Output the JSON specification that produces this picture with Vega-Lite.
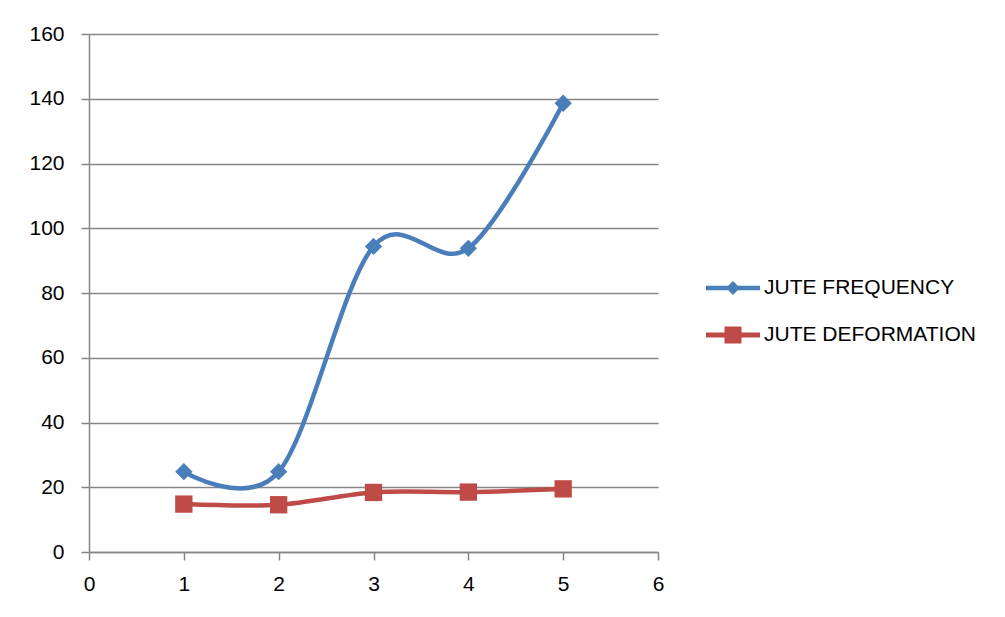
{
  "$schema": "https://vega.github.io/schema/vega-lite/v6.json",
  "width": 569,
  "height": 518,
  "autosize": {"type": "none"},
  "padding": {"left": 89, "top": 34, "right": 347, "bottom": 65},
  "background": "white",
  "config": {
    "view": {"stroke": null},
    "font": "Liberation Sans",
    "axis": {
      "domainColor": "#868686",
      "domainWidth": 1.5,
      "tickColor": "#868686",
      "tickWidth": 1.5,
      "tickSize": 8,
      "gridColor": "#868686",
      "gridWidth": 1.3,
      "labelColor": "#000000",
      "labelFontSize": 21,
      "labelFont": "Liberation Sans",
      "labelFlush": false,
      "title": null
    },
    "legend": {
      "title": null,
      "orient": "none",
      "padding": 0,
      "symbolSize": 2916,
      "symbolOpacity": 1,
      "symbolStrokeWidth": 0,
      "labelFontSize": 21,
      "labelColor": "#000000",
      "labelFont": "Liberation Sans",
      "labelOffset": 4,
      "labelLimit": 400
    }
  },
  "data": {
    "values": [
      {"x": 1, "value": 24.8, "series": "JUTE FREQUENCY"},
      {"x": 2, "value": 24.8, "series": "JUTE FREQUENCY"},
      {"x": 3, "value": 94.4, "series": "JUTE FREQUENCY"},
      {"x": 4, "value": 93.8, "series": "JUTE FREQUENCY"},
      {"x": 5, "value": 138.6, "series": "JUTE FREQUENCY"},
      {"x": 1, "value": 14.8, "series": "JUTE DEFORMATION"},
      {"x": 2, "value": 14.6, "series": "JUTE DEFORMATION"},
      {"x": 3, "value": 18.4, "series": "JUTE DEFORMATION"},
      {"x": 4, "value": 18.5, "series": "JUTE DEFORMATION"},
      {"x": 5, "value": 19.5, "series": "JUTE DEFORMATION"}
    ]
  },
  "encoding": {
    "x": {
      "field": "x",
      "type": "quantitative",
      "scale": {"domain": [0, 6], "nice": false, "zero": true},
      "axis": {"values": [0, 1, 2, 3, 4, 5, 6], "grid": false, "labelPadding": 13, "format": "d"}
    },
    "y": {
      "field": "value",
      "type": "quantitative",
      "scale": {"domain": [0, 160], "nice": false},
      "axis": {"values": [0, 20, 40, 60, 80, 100, 120, 140, 160], "grid": true, "labelPadding": 17, "format": "d"}
    }
  },
  "layer": [
    {
      "mark": {"type": "line", "interpolate": "cardinal", "strokeWidth": 4.5},
      "encoding": {
        "color": {
          "field": "series",
          "type": "nominal",
          "scale": {"domain": ["JUTE FREQUENCY", "JUTE DEFORMATION"], "range": ["#4a7ebb", "#be4b48"]},
          "legend": null
        }
      }
    },
    {
      "mark": {"type": "point", "filled": true, "opacity": 1, "size": 300},
      "encoding": {
        "color": {"field": "series", "type": "nominal", "legend": null},
        "shape": {
          "field": "series",
          "type": "nominal",
          "scale": {"domain": ["JUTE FREQUENCY", "JUTE DEFORMATION"], "range": ["diamond", "square"]},
          "legend": null
        }
      }
    },
    {
      "transform": [{"filter": "datum.series === 'JUTE FREQUENCY'"}],
      "mark": {"type": "point", "filled": true, "opacity": 0, "size": 10, "color": "#4a7ebb"},
      "encoding": {
        "shape": {
          "field": "series",
          "type": "nominal",
          "scale": {
            "domain": ["JUTE FREQUENCY"],
            "range": ["M-1,-0.083H1V0.083H-1Z M0,-0.26L0.26,0L0,0.26L-0.26,0Z"]
          },
          "legend": {"legendX": 617, "legendY": 227}
        }
      }
    },
    {
      "transform": [{"filter": "datum.series === 'JUTE DEFORMATION'"}],
      "mark": {"type": "point", "filled": true, "opacity": 0, "size": 10, "color": "#be4b48"},
      "encoding": {
        "shape": {
          "field": "series",
          "type": "nominal",
          "scale": {
            "domain": ["JUTE DEFORMATION"],
            "range": ["M-1,-0.09H1V0.09H-1Z M-0.315,-0.315H0.315V0.315H-0.315Z"]
          },
          "legend": {"legendX": 617, "legendY": 274}
        }
      }
    }
  ],
  "resolve": {"scale": {"shape": "independent"}, "legend": {"shape": "independent"}}
}
